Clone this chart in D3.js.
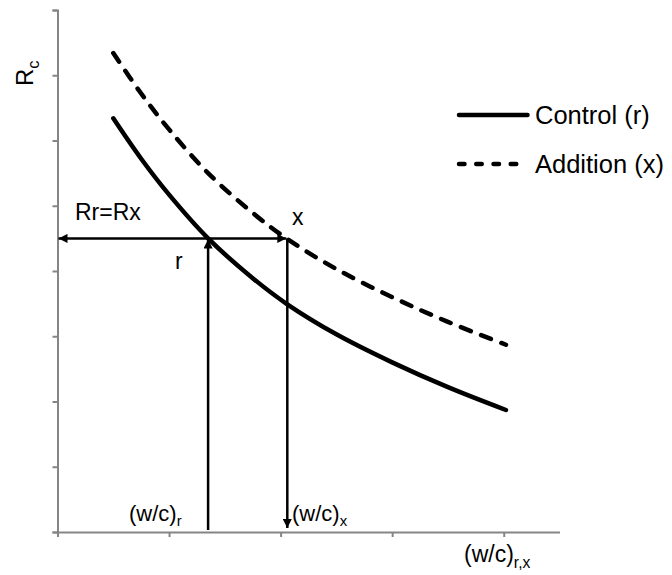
<!DOCTYPE html>
<html><head><meta charset="utf-8">
<script src="https://cdn.jsdelivr.net/npm/d3@7"></script>
<style>body{margin:0;background:#fff}svg{display:block;font-family:"Liberation Sans",Arial,sans-serif}</style>
</head><body>
<svg id="c" width="672" height="575"></svg>
<script>
// data (arbitrary units)
const wc = [0.5, 0.75, 1.0, 1.35, 1.75, 2.06, 2.5, 3.0, 3.5, 4.02];
const control = [6.34, 5.72, 5.17, 4.50, 3.89, 3.49, 3.03, 2.60, 2.22, 1.87];
const addition = [7.34, 6.72, 6.17, 5.50, 4.89, 4.49, 4.03, 3.60, 3.22, 2.87];
const xTicks = [0, 1, 2, 3, 4];
const yTicks = [0, 1, 2, 3, 4, 5, 6, 7, 8];
const wcR = 1.35, wcX = 2.06, rLevel = 4.50;
const legendLabels = ["Control (r)", "Addition (x)"];

const svg = d3.select("#c");
const x = d3.scaleLinear().domain([0, 4.5]).range([57.5, 559.5]);
const y = d3.scaleLinear().domain([0, 8]).range([532, 10]);

const gy = svg.append("g").attr("transform", "translate(57.5,0)")
  .call(d3.axisLeft(y).tickValues(yTicks).tickSize(5).tickSizeOuter(5).tickFormat(""));
const gx = svg.append("g").attr("transform", "translate(0,532)")
  .call(d3.axisBottom(x).tickValues(xTicks).tickSize(5).tickSizeOuter(0).tickFormat(""));
[gy, gx].forEach(g => {
  g.selectAll("path,line").attr("stroke", "#858585").attr("stroke-width", 2);
});

const defs = svg.append("defs");
defs.append("marker").attr("id", "ah").attr("viewBox", "0 0 10 10")
  .attr("refX", 10).attr("refY", 5).attr("markerWidth", 11).attr("markerHeight", 9)
  .attr("markerUnits", "userSpaceOnUse").attr("orient", "auto-start-reverse")
  .append("path").attr("d", "M0,0L10,5L0,10Z").attr("fill", "#000");

const line = d3.line().x((d, i) => x(wc[i])).y(d => y(d)).curve(d3.curveCatmullRom.alpha(0.5));
svg.append("path").attr("d", line(control)).attr("fill", "none").attr("stroke", "#000")
  .attr("stroke-width", 4.5).attr("stroke-linecap", "round");
svg.append("path").attr("d", line(addition)).attr("fill", "none").attr("stroke", "#000")
  .attr("stroke-width", 4.5).attr("stroke-linecap", "round").attr("stroke-dasharray", "10.5 11");

// arrows
svg.append("line").attr("x1", x(0) + 1).attr("x2", x(wcX) - 1).attr("y1", y(rLevel)).attr("y2", y(rLevel))
  .attr("stroke", "#000").attr("stroke-width", 2.5)
  .attr("marker-start", "url(#ah)").attr("marker-end", "url(#ah)");
svg.append("line").attr("x1", x(wcR)).attr("x2", x(wcR)).attr("y1", y(0) - 2).attr("y2", y(rLevel) + 1)
  .attr("stroke", "#000").attr("stroke-width", 2.5).attr("marker-end", "url(#ah)");
svg.append("line").attr("x1", x(wcX)).attr("x2", x(wcX)).attr("y1", y(rLevel)).attr("y2", y(0) - 4)
  .attr("stroke", "#000").attr("stroke-width", 2.5).attr("marker-end", "url(#ah)");

// texts
const t = (tx, ty, size, parts) => {
  const el = svg.append("text").attr("x", tx).attr("y", ty).attr("font-size", size).attr("fill", "#000");
  parts.forEach(p => {
    if (p.sub) el.append("tspan").attr("dy", p.dy || 5).attr("font-size", size * 0.68).text(p.s);
    else el.append("tspan").text(p.s);
  });
  return el;
};
t(75, 220, 23, [{s: "Rr=Rx"}]);
t(292, 225, 23, [{s: "x"}]);
t(175, 269, 23, [{s: "r"}]);
t(129, 521, 22, [{s: "(w/c)"}, {s: "r", sub: true, dy: 5}]);
t(292, 521, 22, [{s: "(w/c)"}, {s: "x", sub: true, dy: 5}]);
t(464, 562, 23, [{s: "(w/c)"}, {s: "r,x", sub: true, dy: 6}]);
t(0, 0, 24, [{s: "R"}, {s: "c", sub: true, dy: 6}]).attr("transform", "translate(33,86) rotate(-90)");

// legend
const lg = [{y: 115, dash: null}, {y: 164, dash: "5.5 11.75"}];
lg.forEach((d, i) => {
  svg.append("line").attr("x1", 459).attr("x2", 527.5).attr("y1", d.y).attr("y2", d.y)
    .attr("stroke", "#000").attr("stroke-width", 4.5).attr("stroke-linecap", "round")
    .attr("stroke-dasharray", d.dash);
  svg.append("text").attr("x", 535).attr("y", d.y + 9).attr("font-size", 25.5).text(legendLabels[i]);
});
</script>
</body></html>
